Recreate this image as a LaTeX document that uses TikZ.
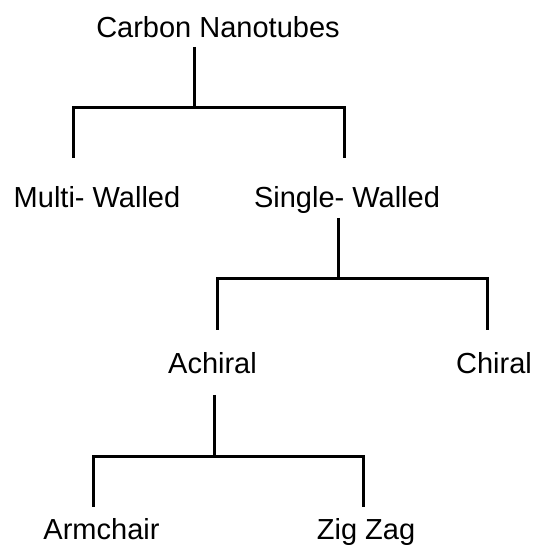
\documentclass[tikz,border=0pt]{standalone}
\usepackage{fontspec}
\setmainfont{Liberation Sans}
\begin{document}
\begin{tikzpicture}[x=1pt,y=-1pt,
  label/.style={anchor=base,inner sep=0pt,font=\fontsize{29}{32}\selectfont},
  link/.style={line width=3pt,line join=miter}]
\useasboundingbox[fill=white] (0,0) rectangle (550,545);

% category labels
\node[label] (cn)  at (218,38)  {Carbon Nanotubes};
\node[label] (mw)  at (97,208)  {Multi- Walled};
\node[label] (sw)  at (347,208) {Single- Walled};
\node[label] (ach) at (212.5,374) {Achiral};
\node[label] (chi) at (494,374) {Chiral};
\node[label] (arm) at (101.5,540) {Armchair};
\node[label] (zz)  at (366,540) {Zig Zag};

% branch points of the tree
\coordinate (cnStem) at (194.5,47);
\coordinate (cnBus)  at (194.5,108);
\coordinate (mwTop)  at (73,158);
\coordinate (swTop)  at (344,158);

\coordinate (swStem) at (338,218);
\coordinate (swBus)  at (338,279);
\coordinate (achTop) at (217,330);
\coordinate (chiTop) at (487,330);

\coordinate (achStem) at (214,395);
\coordinate (achBus)  at (214,457);
\coordinate (armTop)  at (93,507);
\coordinate (zzTop)   at (363,507);

% connectors
\draw[link] (cnStem) -- (cnBus);
\draw[link] (mwTop) |- (cnBus) -| (swTop);

\draw[link] (swStem) -- (swBus);
\draw[link] (achTop) |- (swBus) -| (chiTop);

\draw[link] (achStem) -- (achBus);
\draw[link] (armTop) |- (achBus) -| (zzTop);
\end{tikzpicture}
\end{document}
